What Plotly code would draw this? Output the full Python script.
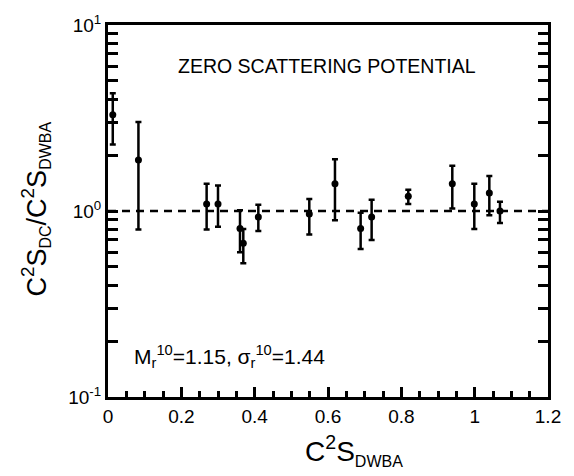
import plotly.graph_objects as go

# C2S_DWBA values and the ratio C2S_DC / C2S_DWBA with asymmetric uncertainties
c2s_dwba = [0.013, 0.083, 0.269, 0.300, 0.360, 0.369, 0.410, 0.549,
            0.619, 0.689, 0.719, 0.819, 0.939, 0.999, 1.040, 1.069]
ratio = [3.29, 1.88, 1.09, 1.09, 0.805, 0.67, 0.929, 0.964,
         1.40, 0.805, 0.929, 1.20, 1.40, 1.09, 1.25, 1.00]
ratio_hi = [4.30, 3.01, 1.40, 1.37, 1.01, 0.80, 1.08, 1.16,
            1.90, 0.98, 1.15, 1.30, 1.75, 1.40, 1.54, 1.12]
ratio_lo = [2.28, 0.795, 0.795, 0.822, 0.60, 0.524, 0.78, 0.748,
            0.892, 0.625, 0.698, 1.09, 1.03, 0.80, 0.948, 0.863]

x_range = [0, 1.2]
x_ticks = [0, 0.2, 0.4, 0.6, 0.8, 1.0, 1.2]
x_tick_text = ["0", "0.2", "0.4", "0.6", "0.8", "1", "1.2"]
x_minor = [0.05, 0.1, 0.15, 0.25, 0.3, 0.35, 0.45, 0.5, 0.55, 0.65, 0.7,
           0.75, 0.85, 0.9, 0.95, 1.05, 1.1, 1.15]
y_ticks = [0.1, 1, 10]
y_tick_text = ["10<sup>-1</sup>", "10<sup>0</sup>", "10<sup>1</sup>"]
y_minor = [0.2, 0.3, 0.4, 0.5, 0.6, 0.7, 0.8, 0.9,
           2, 3, 4, 5, 6, 7, 8, 9]

FONT = "Liberation Sans, Arial, Helvetica, sans-serif"

err_plus = [h - v for h, v in zip(ratio_hi, ratio)]
err_minus = [v - l for v, l in zip(ratio, ratio_lo)]

fig = go.Figure()

# reference line at unity (drawn on the fine-tick x axis, same range)
fig.add_trace(go.Scatter(
    x=x_range, y=[1, 1], mode="lines", xaxis="x2",
    line=dict(color="black", width=2.5, dash="8px,6px"),
    hoverinfo="skip", showlegend=False,
))

fig.add_trace(go.Scatter(
    x=c2s_dwba, y=ratio, mode="markers",
    marker=dict(color="black", size=7),
    error_y=dict(type="data", symmetric=False, array=err_plus,
                 arrayminus=err_minus, color="black", thickness=2.5, width=3),
    showlegend=False,
))

label_font = dict(family=FONT, size=19, color="black")


def tick_axis(side, vals, length):
    """Unlabelled overlay x axis that only draws inside ticks."""
    return dict(
        overlaying="x", side=side, anchor="y", matches="x",
        range=x_range, tickvals=vals, showticklabels=False,
        ticks="inside", ticklen=length, tickwidth=2.5, tickcolor="black",
        showline=False, showgrid=False, zeroline=False,
    )


fig.update_layout(
    xaxis=dict(
        range=x_range, tickvals=x_ticks, ticktext=x_tick_text,
        ticks="inside", ticklen=10, tickwidth=2.5, tickcolor="black",
        showline=True, linecolor="black", linewidth=3, mirror=True,
        showgrid=False, zeroline=False, tickfont=label_font,
    ),
    xaxis2=tick_axis("bottom", x_minor, 6),
    xaxis3=tick_axis("top", x_ticks, 10),
    xaxis4=tick_axis("top", x_minor, 6),
    yaxis=dict(
        type="log", range=[-1, 1], tickvals=y_ticks, ticktext=y_tick_text,
        minor=dict(tickvals=y_minor, ticks="inside", ticklen=6,
                   tickwidth=2.5, tickcolor="black", showgrid=False),
        ticks="inside", ticklen=10, tickwidth=2.5, tickcolor="black",
        showline=True, linecolor="black", linewidth=3, mirror="allticks",
        showgrid=False, zeroline=False, tickfont=label_font,
    ),
)

# axis titles: main symbol centred, small deep subscripts hang to the side
fig.add_annotation(
    x=0.443, y=-0.085, xref="paper", yref="paper",
    xanchor="left", yanchor="top", showarrow=False,
    text="C<sup>2</sup>S<sub><span style='font-size:16px'>DWBA</span></sub>",
    font=dict(family=FONT, size=28, color="black"),
)
fig.add_annotation(
    x=-0.165, y=0.505, xref="paper", yref="paper",
    xanchor="center", yanchor="middle", showarrow=False, textangle=-90,
    text=("C<sup>2</sup>S<sub><span style='font-size:16px'>DC</span></sub>"
          "/C<sup>2</sup>S<sub><span style='font-size:16px'>DWBA</span></sub>"),
    font=dict(family=FONT, size=27, color="black"),
)

fig.add_annotation(
    x=0.497, y=0.925, xref="paper", yref="paper",
    text="ZERO SCATTERING POTENTIAL", showarrow=False,
    font=dict(family=FONT, size=19.5, color="black"),
)
fig.add_annotation(
    x=0.055, y=0.065, xref="paper", yref="paper", xanchor="left",
    yanchor="bottom",
    text="M<sub>r</sub><sup>10</sup>=1.15, σ<sub>r</sub><sup>10</sup>=1.44",
    showarrow=False,
    font=dict(family=FONT, size=21, color="black"),
)

fig.update_layout(
    width=574, height=476,
    margin=dict(l=108, r=26, t=21, b=79),
    plot_bgcolor="white", paper_bgcolor="white",
    font=dict(family=FONT, color="black"),
)

fig.write_html("out.html")
